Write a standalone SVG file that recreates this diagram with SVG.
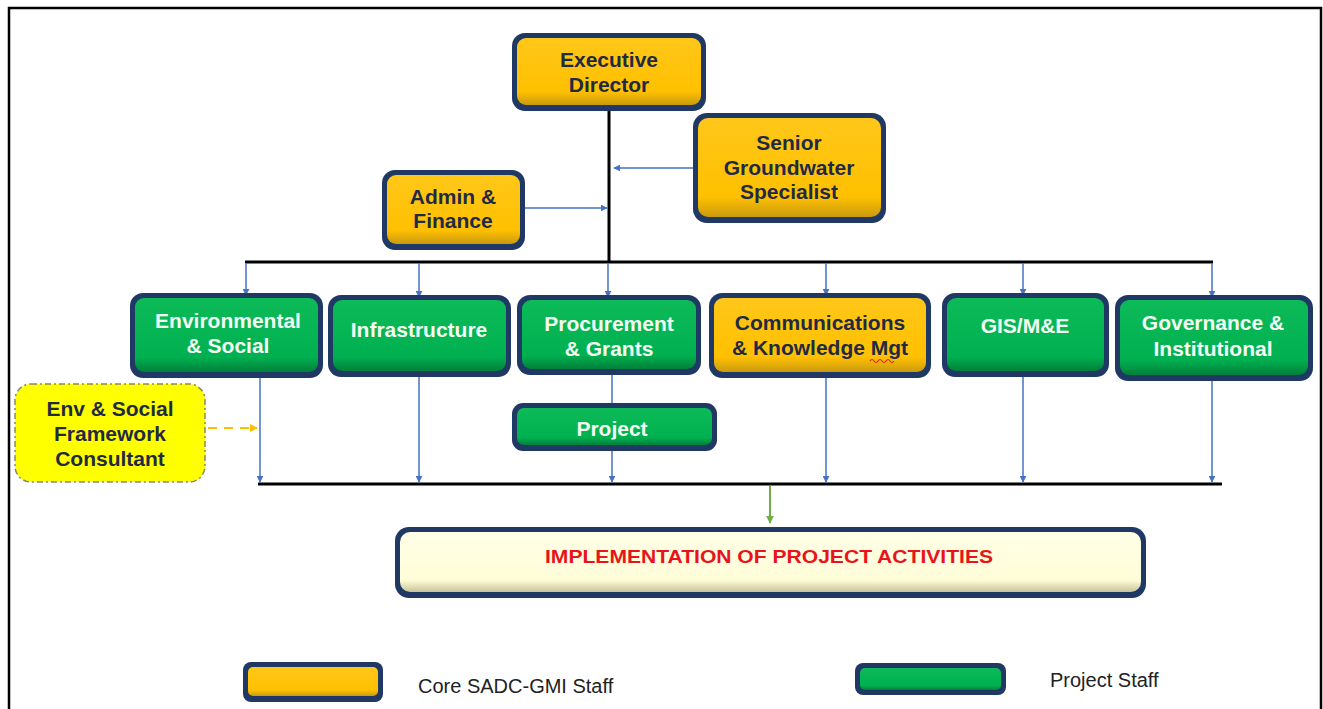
<svg xmlns="http://www.w3.org/2000/svg" width="1323" height="709" viewBox="0 0 1323 709">
<defs>
<linearGradient id="gY" x1="0" y1="0" x2="0" y2="1">
<stop offset="0" stop-color="#FFC71A"/><stop offset="0.8" stop-color="#FFC000"/><stop offset="1" stop-color="#C99A10"/>
</linearGradient>
<linearGradient id="gG" x1="0" y1="0" x2="0" y2="1">
<stop offset="0" stop-color="#0DBA58"/><stop offset="0.8" stop-color="#00B050"/><stop offset="1" stop-color="#00803A"/>
</linearGradient>
<linearGradient id="gC" x1="0" y1="0" x2="0" y2="1">
<stop offset="0" stop-color="#FFFFE6"/><stop offset="0.8" stop-color="#FFFDD8"/><stop offset="1" stop-color="#C8C49A"/>
</linearGradient>
<marker id="ab" viewBox="0 0 10 10" refX="9" refY="5" markerWidth="7" markerHeight="7" markerUnits="userSpaceOnUse" orient="auto">
<path d="M0,0 L10,5 L0,10 z" fill="#4472C4"/>
</marker>
<marker id="ag" viewBox="0 0 10 10" refX="9" refY="5" markerWidth="8" markerHeight="8" markerUnits="userSpaceOnUse" orient="auto">
<path d="M0,0 L10,5 L0,10 z" fill="#70AD47"/>
</marker>
<marker id="ao" viewBox="0 0 10 10" refX="9" refY="5" markerWidth="8" markerHeight="8" markerUnits="userSpaceOnUse" orient="auto">
<path d="M0,0 L10,5 L0,10 z" fill="#FFC000"/>
</marker>
<clipPath id="clipProj"><rect x="512" y="403" width="205" height="36.5"/></clipPath>
</defs>
<style>
.frame{fill:#1F3864}
.y{fill:url(#gY)}
.g{fill:url(#gG)}
.c{fill:url(#gC)}
text{font-family:"Liberation Sans",Arial,sans-serif;font-weight:bold;text-anchor:middle}
.td{fill:#1F2A44;font-size:21px}
.tw{fill:#F4FFF4;font-size:21px}
.blk{stroke:#000;stroke-width:3;fill:none}
.con{stroke:#4472C4;stroke-width:1.5;fill:none;marker-end:url(#ab)}
.leg{font-weight:normal;fill:#222;font-size:20px;text-anchor:start}
</style>
<rect x="9" y="8" width="1312" height="720" fill="#fff" stroke="#000" stroke-width="2.5"/>

<g id="connectors">
<line class="blk" x1="609" y1="110" x2="609" y2="262"/>
<line class="blk" x1="245" y1="262" x2="1213" y2="262"/>
<line class="blk" x1="258" y1="484" x2="1222" y2="484"/>
<line class="con" x1="693" y1="168" x2="614" y2="168"/>
<line class="con" x1="525" y1="208" x2="607" y2="208"/>
<line class="con" x1="246" y1="263" x2="246" y2="295"/>
<line class="con" x1="419" y1="263" x2="419" y2="297"/>
<line class="con" x1="608" y1="263" x2="608" y2="297"/>
<line class="con" x1="826" y1="263" x2="826" y2="295"/>
<line class="con" x1="1023" y1="263" x2="1023" y2="295"/>
<line class="con" x1="1212" y1="263" x2="1212" y2="297"/>
<line class="con" x1="260" y1="376" x2="260" y2="482"/>
<line class="con" x1="419" y1="376" x2="419" y2="482"/>
<line class="con" x1="612" y1="372" x2="612" y2="482"/>
<line class="con" x1="826" y1="376" x2="826" y2="482"/>
<line class="con" x1="1023" y1="374" x2="1023" y2="482"/>
<line class="con" x1="1212" y1="378" x2="1212" y2="482"/>
<line x1="208" y1="428" x2="257" y2="428" stroke="#FFC000" stroke-width="2" stroke-dasharray="9,7" marker-end="url(#ao)"/>
<line x1="770" y1="486" x2="770" y2="523" stroke="#70AD47" stroke-width="2" marker-end="url(#ag)"/>
</g>

<g id="executive-director">
<rect class="frame" x="512" y="33" width="194" height="78" rx="13"/>
<rect class="y" x="517" y="38" width="184" height="67" rx="9"/>
<text class="td" x="609" y="67">Executive</text>
<text class="td" x="609" y="92">Director</text>
</g>

<g id="senior-groundwater-specialist">
<rect class="frame" x="693" y="113" width="193" height="110" rx="14"/>
<rect class="y" x="698" y="118" width="183" height="99" rx="10"/>
<text class="td" x="789" y="150">Senior</text>
<text class="td" x="789" y="175">Groundwater</text>
<text class="td" x="789" y="199">Specialist</text>
</g>

<g id="admin-finance">
<rect class="frame" x="382" y="170" width="143" height="80" rx="13"/>
<rect class="y" x="387" y="175" width="133" height="69" rx="9"/>
<text class="td" x="453" y="204">Admin &amp;</text>
<text class="td" x="453" y="228">Finance</text>
</g>

<g id="environmental-social">
<rect class="frame" x="130" y="293" width="193" height="85" rx="13"/>
<rect class="g" x="135" y="298" width="183" height="74" rx="9"/>
<text class="tw" x="228" y="328">Environmental</text>
<text class="tw" x="228" y="353">&amp; Social</text>
</g>

<g id="infrastructure">
<rect class="frame" x="328" y="295" width="183" height="82" rx="13"/>
<rect class="g" x="333" y="300" width="173" height="71" rx="9"/>
<text class="tw" x="419" y="337">Infrastructure</text>
</g>

<g id="procurement-grants">
<rect class="frame" x="517" y="295" width="184" height="80" rx="13"/>
<rect class="g" x="522" y="300" width="174" height="69" rx="9"/>
<text class="tw" x="609" y="331">Procurement</text>
<text class="tw" x="609" y="356">&amp; Grants</text>
</g>

<g id="communications-knowledge">
<rect class="frame" x="709" y="293" width="222" height="85" rx="13"/>
<rect class="y" x="714" y="298" width="212" height="74" rx="9"/>
<text class="td" x="820" y="330">Communications</text>
<text class="td" x="820" y="355">&amp; Knowledge Mgt</text>
<path d="M870,361 q2,-3 4,0 t4,0 t4,0 t4,0 t4,0 t4,0" stroke="#E02020" stroke-width="1.2" fill="none"/>
</g>

<g id="gis-me">
<rect class="frame" x="942" y="293" width="167" height="84" rx="13"/>
<rect class="g" x="947" y="298" width="157" height="73" rx="9"/>
<text class="tw" x="1025" y="333">GIS/M&amp;E</text>
</g>

<g id="governance-institutional">
<rect class="frame" x="1115" y="295" width="198" height="86" rx="13"/>
<rect class="g" x="1120" y="300" width="188" height="75" rx="9"/>
<text class="tw" x="1213" y="330">Governance &amp;</text>
<text class="tw" x="1213" y="356">Institutional</text>
</g>

<g id="project">
<rect class="frame" x="512" y="403" width="205" height="48" rx="11"/>
<rect class="g" x="517" y="408" width="195" height="37" rx="7"/>
<text class="tw" x="612" y="436" clip-path="url(#clipProj)">Project</text>
</g>

<g id="env-social-framework-consultant">
<rect x="15" y="384" width="190" height="98" rx="16" fill="#FFFF00" stroke="#8A8A60" stroke-width="1.5" stroke-dasharray="6,3,2,3"/>
<text class="td" x="110" y="416">Env &amp; Social</text>
<text class="td" x="110" y="441">Framework</text>
<text class="td" x="110" y="466">Consultant</text>
</g>

<g id="implementation">
<rect class="frame" x="395" y="527" width="751" height="71" rx="14"/>
<rect class="c" x="400" y="532" width="741" height="60" rx="10"/>
<text x="769" y="563" fill="#E8141C" font-size="19" textLength="448" lengthAdjust="spacingAndGlyphs">IMPLEMENTATION OF PROJECT ACTIVITIES</text>
</g>

<g id="legend-core">
<rect class="frame" x="243" y="662" width="140" height="40" rx="8"/>
<rect class="y" x="248" y="667" width="130" height="29" rx="5"/>
<text class="leg" x="418" y="693">Core SADC-GMI Staff</text>
</g>

<g id="legend-project">
<rect class="frame" x="855" y="663" width="151" height="32" rx="8"/>
<rect class="g" x="860" y="668" width="141" height="22" rx="5"/>
<text class="leg" x="1050" y="687">Project Staff</text>
</g>
</svg>
